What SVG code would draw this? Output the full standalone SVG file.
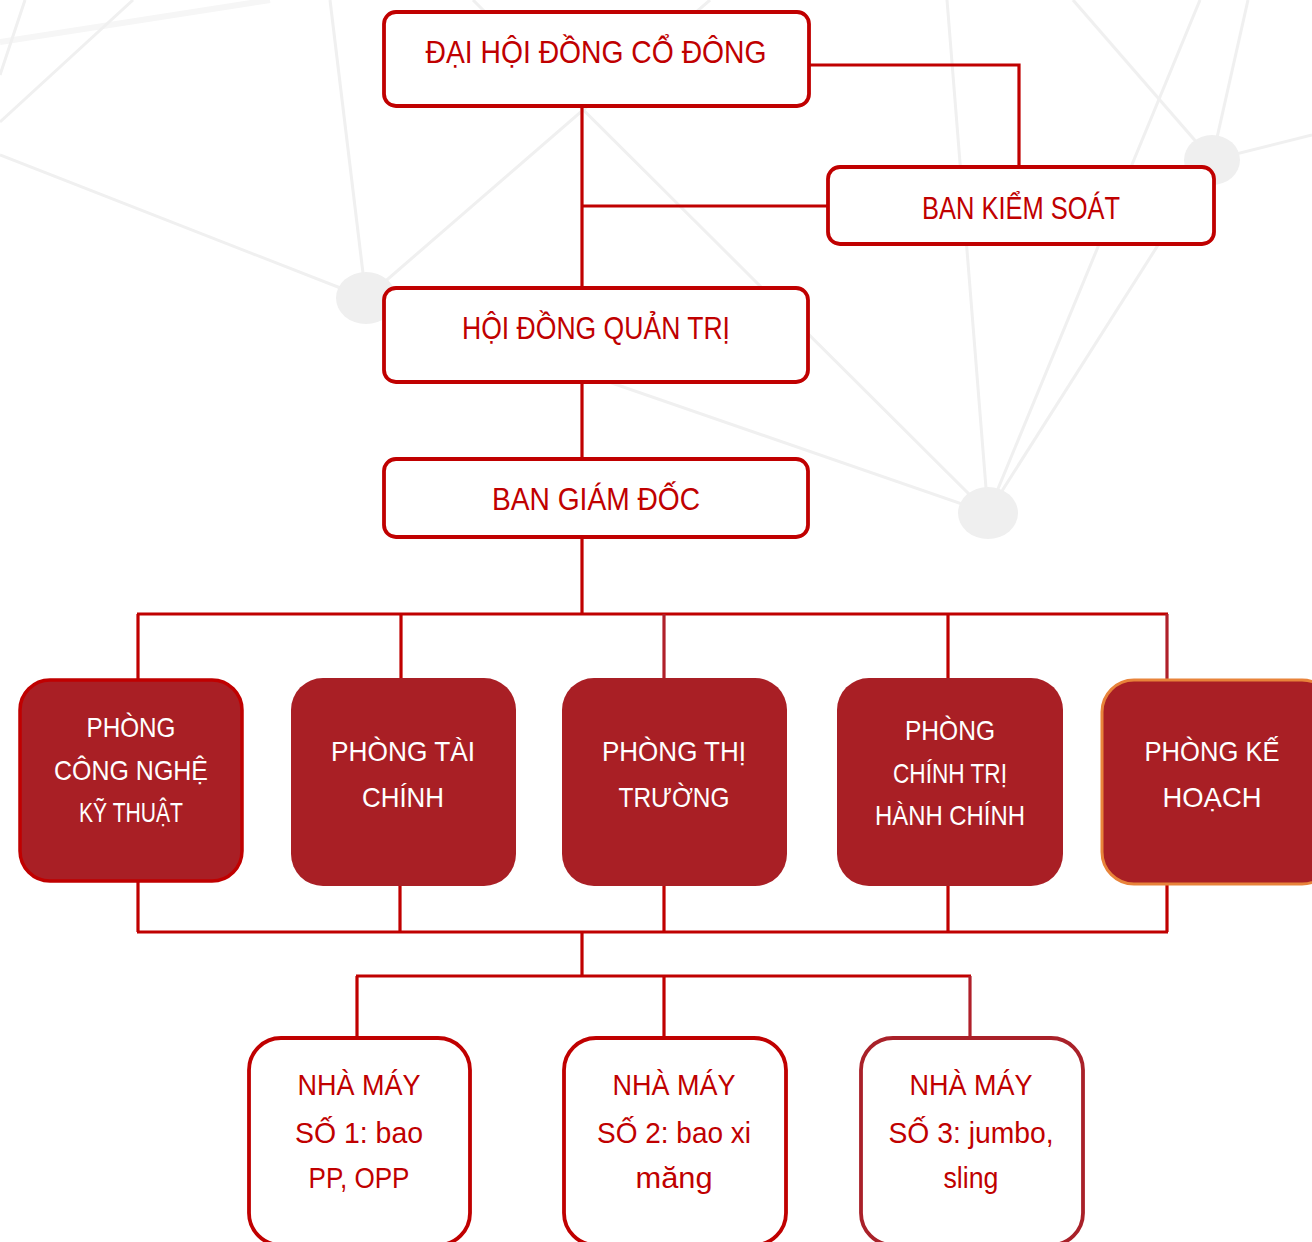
<svg xmlns="http://www.w3.org/2000/svg" width="1312" height="1242" viewBox="0 0 1312 1242">
  <style>
    .bg line { stroke: #f0f0f0; stroke-width: 3; }
    .bg ellipse { fill: #efefef; }
    .conn path { fill: none; stroke: #c00000; stroke-width: 3.2; }
    .conn path.dk { stroke: #b0202a; }
    .box { fill: #ffffff; stroke: #c00000; stroke-width: 3.8; }
    .dark { fill: #a91f25; }
    .t { font-family: "Liberation Sans", Arial, sans-serif; text-anchor: middle; }
    .red { fill: #c00000; }
    .wht { fill: #ffffff; }
  </style>

  <rect x="0" y="0" width="1312" height="1242" fill="#ffffff"/>

  <g class="bg" id="background">
    <line x1="0" y1="42" x2="270" y2="0" style="stroke:#f6f6f6;stroke-width:6"/>
    <line x1="0" y1="75" x2="25" y2="0"/>
    <line x1="0" y1="122" x2="133" y2="0"/>
    <line x1="0" y1="155" x2="366" y2="298"/>
    <line x1="330" y1="0" x2="366" y2="298"/>
    <line x1="366" y1="298" x2="710" y2="0"/>
    <line x1="473" y1="0" x2="988" y2="513"/>
    <line x1="366" y1="298" x2="988" y2="513"/>
    <line x1="947" y1="0" x2="988" y2="513"/>
    <line x1="1200" y1="0" x2="988" y2="513"/>
    <line x1="1212" y1="160" x2="988" y2="513"/>
    <line x1="1073" y1="0" x2="1212" y2="160"/>
    <line x1="1248" y1="0" x2="1212" y2="160"/>
    <line x1="1212" y1="160" x2="1312" y2="135"/>
    <ellipse cx="366" cy="298" rx="30" ry="26"/>
    <ellipse cx="988" cy="513" rx="30" ry="26"/>
    <ellipse cx="1212" cy="160" rx="28" ry="25"/>
  </g>

  <g class="conn" id="connectors">
    <path d="M809,65 H1019 V167"/>
    <path d="M582,106 V288"/>
    <path d="M582,206 H828"/>
    <path d="M582,382 V459"/>
    <path d="M582,537 V614"/>
    <path d="M137,614 H1168"/>
    <path d="M138,614 V680"/>
    <path d="M401,614 V678"/>
    <path class="dk" d="M664,614 V678"/>
    <path d="M948,614 V678"/>
    <path class="dk" d="M1167,614 V680"/>
    <path d="M138,881 V932"/>
    <path d="M400,886 V932"/>
    <path d="M664,886 V932"/>
    <path d="M948,886 V932"/>
    <path d="M1167,884 V932"/>
    <path d="M137,932 H1168"/>
    <path d="M582,932 V976"/>
    <path d="M356,976 H971"/>
    <path d="M357,976 V1038"/>
    <path d="M664,976 V1038"/>
    <path class="dk" d="M970,976 V1038"/>
  </g>

  <g id="dai-hoi-dong-co-dong">
    <rect class="box" x="384" y="12" width="425" height="94" rx="12"/>
    <text class="t red" x="596" y="63" font-size="31" textLength="341" lengthAdjust="spacingAndGlyphs">ĐẠI HỘI ĐỒNG CỔ ĐÔNG</text>
  </g>

  <g id="ban-kiem-soat">
    <rect class="box" x="828" y="167" width="386" height="77" rx="12"/>
    <text class="t red" x="1021" y="219" font-size="31" textLength="198" lengthAdjust="spacingAndGlyphs">BAN KIỂM SOÁT</text>
  </g>

  <g id="hoi-dong-quan-tri">
    <rect class="box" x="384" y="288" width="424" height="94" rx="12"/>
    <text class="t red" x="596" y="339" font-size="31" textLength="268" lengthAdjust="spacingAndGlyphs">HỘI ĐỒNG QUẢN TRỊ</text>
  </g>

  <g id="ban-giam-doc">
    <rect class="box" x="384" y="459" width="424" height="78" rx="12"/>
    <text class="t red" x="596" y="510" font-size="31" textLength="208" lengthAdjust="spacingAndGlyphs">BAN GIÁM ĐỐC</text>
  </g>

  <g id="phong-cong-nghe-ky-thuat">
    <rect class="dark" x="20" y="680" width="222" height="201" rx="30" stroke="#c00000" stroke-width="3.5"/>
    <text class="t wht" x="131" y="737" font-size="28" textLength="89" lengthAdjust="spacingAndGlyphs">PHÒNG</text>
    <text class="t wht" x="131" y="780" font-size="28" textLength="154" lengthAdjust="spacingAndGlyphs">CÔNG NGHỆ</text>
    <text class="t wht" x="131" y="822" font-size="28" textLength="104" lengthAdjust="spacingAndGlyphs">KỸ THUẬT</text>
  </g>

  <g id="phong-tai-chinh">
    <rect class="dark" x="291" y="678" width="225" height="208" rx="32"/>
    <text class="t wht" x="403" y="761" font-size="28" textLength="144" lengthAdjust="spacingAndGlyphs">PHÒNG TÀI</text>
    <text class="t wht" x="403" y="807" font-size="28" textLength="82" lengthAdjust="spacingAndGlyphs">CHÍNH</text>
  </g>

  <g id="phong-thi-truong">
    <rect class="dark" x="562" y="678" width="225" height="208" rx="32"/>
    <text class="t wht" x="674" y="761" font-size="28" textLength="144" lengthAdjust="spacingAndGlyphs">PHÒNG THỊ</text>
    <text class="t wht" x="674" y="807" font-size="28" textLength="111" lengthAdjust="spacingAndGlyphs">TRƯỜNG</text>
  </g>

  <g id="phong-chinh-tri-hanh-chinh">
    <rect class="dark" x="837" y="678" width="226" height="208" rx="32"/>
    <text class="t wht" x="950" y="740" font-size="28" textLength="90" lengthAdjust="spacingAndGlyphs">PHÒNG</text>
    <text class="t wht" x="950" y="783" font-size="28" textLength="114" lengthAdjust="spacingAndGlyphs">CHÍNH TRỊ</text>
    <text class="t wht" x="950" y="825" font-size="28" textLength="150" lengthAdjust="spacingAndGlyphs">HÀNH CHÍNH</text>
  </g>

  <g id="phong-ke-hoach">
    <rect class="dark" x="1102" y="680" width="232" height="204" rx="32" stroke="#e8833a" stroke-width="3"/>
    <text class="t wht" x="1212" y="761" font-size="28" textLength="135" lengthAdjust="spacingAndGlyphs">PHÒNG KẾ</text>
    <text class="t wht" x="1212" y="807" font-size="28" textLength="99" lengthAdjust="spacingAndGlyphs">HOẠCH</text>
  </g>

  <g id="nha-may-so-1">
    <rect class="box" x="249" y="1038" width="221" height="207" rx="32"/>
    <text class="t red" x="359" y="1095" font-size="30" textLength="123" lengthAdjust="spacingAndGlyphs">NHÀ MÁY</text>
    <text class="t red" x="359" y="1143" font-size="30" textLength="128" lengthAdjust="spacingAndGlyphs">SỐ 1: bao</text>
    <text class="t red" x="359" y="1188" font-size="30" textLength="101" lengthAdjust="spacingAndGlyphs">PP, OPP</text>
  </g>

  <g id="nha-may-so-2">
    <rect class="box" x="564" y="1038" width="222" height="207" rx="32"/>
    <text class="t red" x="674" y="1095" font-size="30" textLength="123" lengthAdjust="spacingAndGlyphs">NHÀ MÁY</text>
    <text class="t red" x="674" y="1143" font-size="30" textLength="154" lengthAdjust="spacingAndGlyphs">SỐ 2: bao xi</text>
    <text class="t red" x="674" y="1188" font-size="30" textLength="77" lengthAdjust="spacingAndGlyphs">măng</text>
  </g>

  <g id="nha-may-so-3">
    <rect class="box" x="861" y="1038" width="222" height="207" rx="32" style="stroke:#a92129"/>
    <text class="t red" x="971" y="1095" font-size="30" textLength="123" lengthAdjust="spacingAndGlyphs">NHÀ MÁY</text>
    <text class="t red" x="971" y="1143" font-size="30" textLength="165" lengthAdjust="spacingAndGlyphs">SỐ 3: jumbo,</text>
    <text class="t red" x="971" y="1188" font-size="30" textLength="55" lengthAdjust="spacingAndGlyphs">sling</text>
  </g>
</svg>
